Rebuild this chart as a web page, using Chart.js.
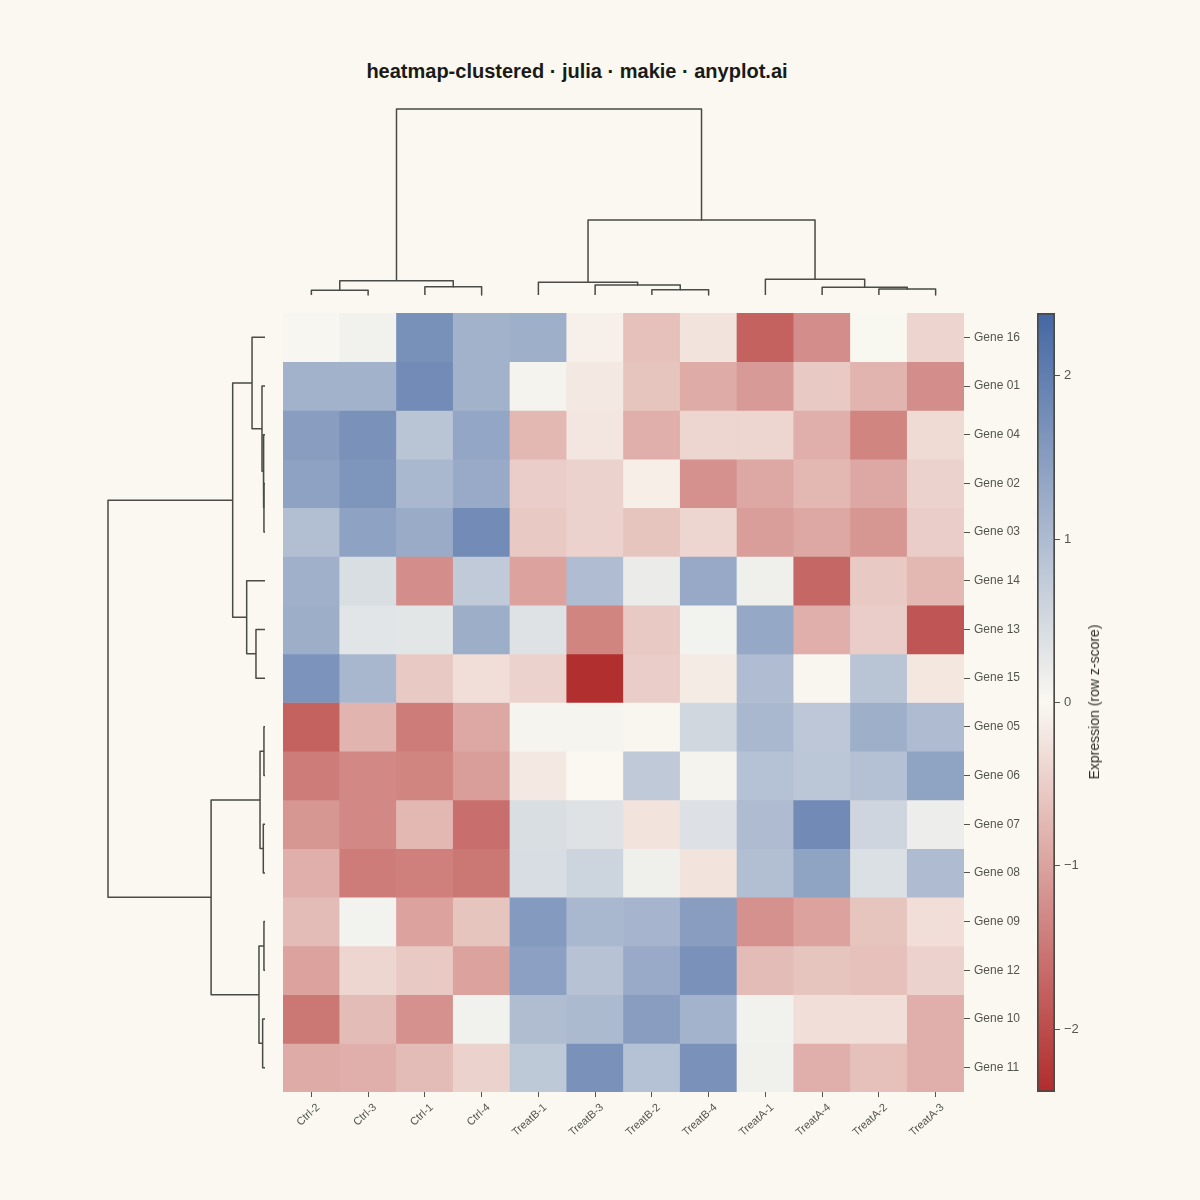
<!DOCTYPE html>
<html>
<head>
<meta charset="utf-8">
<title>heatmap-clustered</title>
<script src="https://cdn.jsdelivr.net/npm/chart.js@4"></script>
<style>
  html, body { margin: 0; padding: 0; background: #FAF8F1; }
  body { width: 1200px; height: 1200px; position: relative; overflow: hidden; font-family: "Liberation Sans", sans-serif; }
  canvas { position: absolute; }
  #title { position: absolute; left: 177px; width: 800px; top: 60px; text-align: center; font-size: 20px; font-weight: bold; color: #1A1A17; }
  #cbLabel { position: absolute; left: 1094px; top: 702px; transform: translate(-50%, -50%) rotate(-90deg); white-space: nowrap; font-size: 14px; color: #2E2E2A; }
</style>
</head>
<body>
<div id="title">heatmap-clustered · julia · makie · anyplot.ai</div>
<canvas id="dendroTop" width="689" height="194" style="left:279px;top:105px"></canvas>
<canvas id="dendroLeft" width="165" height="787" style="left:104px;top:309px"></canvas>
<canvas id="heat" width="746" height="839" style="left:283px;top:313px"></canvas>
<canvas id="colorbar" width="90" height="787" style="left:1030px;top:309px"></canvas>
<div id="cbLabel">Expression (row z-score)</div>

<script>
const samples = ['Ctrl-2', 'Ctrl-3', 'Ctrl-1', 'Ctrl-4', 'TreatB-1', 'TreatB-3', 'TreatB-2', 'TreatB-4', 'TreatA-1', 'TreatA-4', 'TreatA-2', 'TreatA-3'];
const genes = ['Gene 16', 'Gene 01', 'Gene 04', 'Gene 02', 'Gene 03', 'Gene 14', 'Gene 13', 'Gene 15', 'Gene 05', 'Gene 06', 'Gene 07', 'Gene 08', 'Gene 09', 'Gene 12', 'Gene 10', 'Gene 11'];

// z-scores, one row per gene, same order as above
const zscores = [
  [0.03, 0.12, 1.70, 1.15, 1.20, -0.10, -0.65, -0.25, -1.75, -1.25, 0.02, -0.42],
  [1.15, 1.15, 1.78, 1.15, 0.08, -0.18, -0.60, -0.90, -1.10, -0.55, -0.80, -1.25],
  [1.50, 1.68, 0.85, 1.35, -0.75, -0.22, -0.85, -0.40, -0.40, -0.85, -1.35, -0.35],
  [1.42, 1.62, 1.05, 1.28, -0.50, -0.45, -0.12, -1.20, -0.95, -0.75, -0.95, -0.45],
  [0.95, 1.42, 1.27, 1.78, -0.55, -0.45, -0.60, -0.40, -1.05, -0.95, -1.15, -0.50],
  [1.18, 0.43, -1.25, 0.75, -1.00, 0.98, 0.20, 1.30, 0.15, -1.70, -0.55, -0.75],
  [1.22, 0.32, 0.30, 1.22, 0.37, -1.35, -0.55, 0.10, 1.32, -0.85, -0.50, -1.90],
  [1.65, 1.08, -0.55, -0.30, -0.45, -2.35, -0.50, -0.15, 0.98, -0.03, 0.85, -0.20],
  [-1.75, -0.80, -1.45, -0.95, 0.06, 0.06, -0.02, 0.55, 1.05, 0.80, 1.20, 1.00],
  [-1.45, -1.30, -1.35, -1.05, -0.18, 0.00, 0.77, 0.08, 0.90, 0.82, 0.92, 1.40],
  [-1.15, -1.30, -0.75, -1.60, 0.43, 0.36, -0.25, 0.38, 1.00, 1.80, 0.57, 0.17],
  [-0.85, -1.45, -1.40, -1.50, 0.44, 0.60, 0.15, -0.25, 0.95, 1.40, 0.40, 1.00],
  [-0.70, 0.10, -1.00, -0.60, 1.55, 1.05, 1.10, 1.50, -1.20, -1.00, -0.60, -0.30],
  [-1.00, -0.40, -0.55, -1.00, 1.45, 0.88, 1.28, 1.68, -0.70, -0.60, -0.65, -0.45],
  [-1.50, -0.70, -1.20, 0.12, 0.97, 1.02, 1.50, 1.13, 0.12, -0.30, -0.30, -0.85],
  [-0.90, -0.85, -0.70, -0.45, 0.78, 1.68, 0.90, 1.68, 0.13, -0.85, -0.65, -0.85]
];

// linkage style: [left, right, height], ids >= n point at earlier merges
const colMerges = [
  [0, 1, 0.29], [2, 3, 0.52], [12, 13, 0.89],
  [6, 7, 0.33], [5, 15, 0.62], [4, 16, 0.79],
  [10, 11, 0.375], [9, 18, 0.48], [8, 19, 0.98],
  [17, 20, 4.69], [14, 21, 11.63]
];
const colMaxHeight = 11.63;

const rowMerges = [
  [3, 4, 0.08], [2, 16, 0.13], [1, 17, 0.23], [0, 18, 0.99],
  [6, 7, 0.69], [5, 20, 1.40], [19, 21, 2.47],
  [8, 9, 0.08], [10, 11, 0.13], [23, 24, 0.38],
  [12, 13, 0.08], [14, 15, 0.18], [26, 27, 0.46],
  [25, 28, 4.12], [22, 29, 12.0]
];
const rowMaxHeight = 12.0;

const cbRange = 2.385;
const cbTicks = [-2, -1, 0, 1, 2];

const lowColor = [176, 44, 44];
const midColor = [250, 248, 241];
const highColor = [68, 103, 163];

const ink = '#4A4A46';
const tickInk = '#55554F';

function colorFor(v) {
  const t = Math.min(Math.abs(v) / cbRange, 1);
  const end = v < 0 ? lowColor : highColor;
  const c = midColor.map((m, i) => Math.round(m + (end[i] - m) * t));
  return `rgb(${c[0]}, ${c[1]}, ${c[2]})`;
}

// turns the merges into one U shape per merge, [position, height] pairs
function dendroSegments(merges, n) {
  const nodes = [];
  for (let i = 0; i < n; i++) nodes.push({ pos: i, h: 0 });
  return merges.map(([a, b, h]) => {
    const l = nodes[a], r = nodes[b];
    nodes.push({ pos: (l.pos + r.pos) / 2, h: h });
    return [[l.pos, l.h], [l.pos, h], [r.pos, h], [r.pos, r.h]];
  });
}

function lineDataset(points) {
  return {
    data: points,
    showLine: true,
    pointRadius: 0,
    borderColor: ink,
    borderWidth: 1.5,
    borderJoinStyle: 'round',
    tension: 0,
    clip: false
  };
}

const noFrills = {
  responsive: false,
  animation: false,
  plugins: { legend: { display: false }, tooltip: { enabled: false } }
};

// top dendrogram
new Chart(document.getElementById('dendroTop'), {
  type: 'scatter',
  data: {
    datasets: dendroSegments(colMerges, samples.length).map(seg =>
      lineDataset(seg.map(p => ({ x: p[0], y: p[1] }))))
  },
  options: {
    ...noFrills,
    layout: { padding: 4 },
    scales: {
      x: { display: false, min: -0.5, max: samples.length - 0.5 },
      y: { display: false, min: 0, max: colMaxHeight }
    }
  }
});

// left dendrogram, leaves to the right
new Chart(document.getElementById('dendroLeft'), {
  type: 'scatter',
  data: {
    datasets: dendroSegments(rowMerges, genes.length).map(seg =>
      lineDataset(seg.map(p => ({ x: p[1], y: p[0] }))))
  },
  options: {
    ...noFrills,
    layout: { padding: 4 },
    scales: {
      x: { display: false, reverse: true, min: 0, max: rowMaxHeight },
      y: { display: false, reverse: true, min: -0.5, max: genes.length - 0.5 }
    }
  }
});

function fixAxisSize(prop, size) {
  return scale => {
    scale[prop] = size;
    scale.paddingLeft = scale.paddingRight = scale.paddingTop = scale.paddingBottom = 0;
  };
}

// heatmap: every row is a dataset of floating bars
new Chart(document.getElementById('heat'), {
  type: 'bar',
  data: {
    labels: samples,
    datasets: genes.map((g, r) => ({
      label: g,
      data: samples.map(() => [r, r + 1]),
      backgroundColor: zscores[r].map(colorFor),
      barPercentage: 1,
      categoryPercentage: 1,
      grouped: false,
      borderWidth: 0
    }))
  },
  options: {
    ...noFrills,
    scales: {
      x: {
        grid: { offset: false, drawOnChartArea: false, tickLength: 5, tickColor: tickInk, tickWidth: 1 },
        border: { display: false },
        ticks: {
          autoSkip: false, minRotation: 42, maxRotation: 42, padding: 4, labelOffset: 7,
          color: tickInk, font: { family: 'Liberation Sans', size: 11 }
        },
        afterFit: fixAxisSize('height', 60)
      },
      y: {
        position: 'right',
        reverse: true,
        min: 0,
        max: genes.length,
        grid: { drawOnChartArea: false, tickLength: 6, tickColor: tickInk, tickWidth: 1 },
        border: { display: false },
        afterBuildTicks: scale => { scale.ticks = genes.map((g, i) => ({ value: i + 0.5 })); },
        ticks: {
          autoSkip: false, padding: 4,
          color: tickInk, font: { family: 'Liberation Sans', size: 12 },
          callback: v => genes[v - 0.5]
        },
        afterFit: fixAxisSize('width', 65)
      }
    }
  }
});

// colour bar: one floating bar with a gradient built from the same colours
new Chart(document.getElementById('colorbar'), {
  type: 'bar',
  data: {
    labels: ['z'],
    datasets: [{
      data: [[-cbRange, cbRange]],
      barPercentage: 1,
      categoryPercentage: 1,
      borderWidth: 2,
      borderColor: ink,
      borderSkipped: false,
      backgroundColor: ctx => {
        const area = ctx.chart.chartArea;
        if (!area) return colorFor(0);
        const g = ctx.chart.ctx.createLinearGradient(0, area.bottom, 0, area.top);
        g.addColorStop(0, colorFor(-cbRange));
        g.addColorStop(0.5, colorFor(0));
        g.addColorStop(1, colorFor(cbRange));
        return g;
      }
    }]
  },
  options: {
    ...noFrills,
    layout: { padding: { left: 7, top: 4, bottom: 4 } },
    scales: {
      x: { display: false },
      y: {
        position: 'right',
        min: -cbRange,
        max: cbRange,
        grid: { drawOnChartArea: false, tickLength: 5, tickColor: tickInk, tickWidth: 1 },
        border: { display: false },
        afterBuildTicks: scale => { scale.ticks = cbTicks.map(v => ({ value: v })); },
        ticks: {
          padding: 4,
          color: tickInk, font: { family: 'Liberation Sans', size: 13 },
          callback: v => String(v).replace('-', '\u2212')
        },
        afterFit: fixAxisSize('width', 65)
      }
    }
  }
});
</script>
</body>
</html>
